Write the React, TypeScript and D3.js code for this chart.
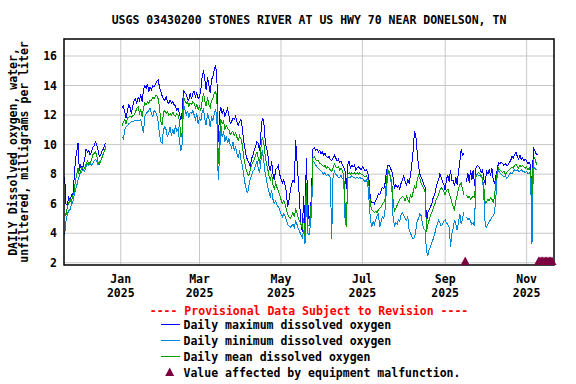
import React from 'react';
import * as d3 from 'd3';

// daily values, day 0 = 2024-11-20 (UTC); null = no record
const firstDay = Date.UTC(2024, 10, 20);

const maxDO: (number | null)[] = [
  7.8, 6.0, 5.9, 6.5, 6.1, 6.6, 6.4, 7.6, 8.9, 9.5, 10.1, 8.2, 8.6, 8.3, 8.6, 9.0, 9.7, 9.5, 9.6, 9.3, 9.5, 9.8, 9.9, 10.2, 10.0, 9.6, 9.2, 9.3, 9.6, 9.7, 10.0, 10.1,
  null, null, null, null, null, null, null, null, null, null, null,
  12.5, 12.6, 12.2, 11.8, 12.3, 12.7, 12.5, 12.1, 12.6, 13.0, 13.1, 12.8, 13.2, 13.0, 13.4, 12.9, 13.7, 14.0, 13.8, 14.1, 13.6, 13.9, 13.7, 14.0, 13.9, 14.1, 14.3, 14.4, 13.9, 13.6, 13.3, 13.1,
  13.0, 13.25, 12.9, 12.8, 13.0, 12.8, 12.9, 12.7, 12.6, 12.35, 12.45, 12.1, 11.7, 12.2, 13.7, 13.5, 13.4, 13.1, 13.0, 13.5, 13.1, 13.5, 13.6, 13.25, 13.5, 13.1, 13.25, 13.7, 14.6, 15.05, 14.4, 13.7, 14.6, 14.05, 13.5, 14.4, 14.6, 15.05, 15.4, 14.6,
  10.2, 12.1, 12.55, 12.1, 12.35, 11.9, 12.2, 12.45, 12.0, 11.45, 11.55, 11.8, 11.7, 11.9, 11.55, 11.3, 11.55, 11.7, 11.2, 10.25, 9.75, 9.2, 8.95, 8.75, 8.5, 9.05, 9.3, 9.6, 9.85, 10.2, 10.1, 9.55,
  10.8, 11.8, 11.7, 10.5, 9.8, 9.5, 8.6, 8.2, 8.9, 8.0, 7.6, 8.3, 8.4, 8.6, 8.0, 7.7, 7.4, 7.6, 7.3, 6.8, 5.8, 6.2, 6.9, 7.3, 7.6, 7.4, 10.3, 8.9, 7.6, 6.0, 4.6, 4.1, 6.5, 4.4, 9.1, 6.2, 5.0, 5.2, 7.0,
  9.7, 9.8, 9.6, 9.7, 9.5, 9.6, 9.4, 9.5, 9.3, 9.4, 9.2, 9.1, 9.2, 9.0, 8.9, 9.1, 9.3, 9.1, 8.9, 9.0, 8.8, 8.9, 8.6, 8.5, 8.2, 7.0, 8.6, 8.9, 8.4, 8.6, 8.5, 8.6, 8.3,
  8.4, 8.5, 8.4, 8.3, 8.5, 8.4, 8.2, 8.3, 8.1, 7.6, 6.2, 6.1, 6.1, 6.0, 6.2, 6.4, 6.7, 6.6, 6.9, 7.1, 7.0, 7.4, 8.2, 8.6, 8.6, 8.4, 8.2, 7.8, 7.0, 7.3,
  7.1, 7.2, 7.0, 7.4, 7.6, 7.9, 7.5, 7.3, 7.6, 7.4, 7.9, 8.7, 9.6, 10.9, 10.6, 9.5, 8.6, 8.0, 7.8, 7.6, 7.3, 7.1, 4.7, 5.4, 5.6, 5.8, 6.0, 6.4, 6.6, 7.0,
  7.4, 7.6, 8.0, 7.8, 7.5, 7.3, 6.9, 7.7, 7.9, 7.5, 8.3, 7.6,
  7.6, 7.2, 7.8, 7.3, 8.2, 8.9, 9.7, 9.3, 9.4, null, 7.5, 8.1, 7.4, 8.3, 7.6, 8.3, 7.2, 8.4, 8.6, 8.5,
  8.4, 8.1, 8.3, 7.6, 7.4, 8.2, 8.0, 8.3, 7.9, 8.4, 7.6, 7.4, 7.9, 8.3, 8.8, 8.7, 8.8, 8.7, 8.6, 8.7,
  8.6, 8.6, 8.8, 8.9, 9.2, 9.1, 9.3, 9.5, 9.2, 9.0, 9.3, 9.0, 9.1, 8.9, 9.0, 8.9, 8.7, 8.8, 8.6, 6.0, 9.8, 9.6, 9.4, 9.3,
];

const minDO: (number | null)[] = [
  3.9, 4.8, 5.3, 5.5, 5.6, 5.9, 6.1, 6.5, 6.9, 7.2, 7.6, 7.9, 8.1, 8.2, 8.3, 8.2, 8.5, 8.7, 8.6, 8.8, 8.6, 8.7, 8.9, 9.0, 8.9, 8.6, 8.8, 8.9, 9.2, 9.4, 9.6, 9.7,
  null, null, null, null, null, null, null, null, null, null, null,
  10.5, 10.4, 11.0, 11.2, 11.3, 11.4, 11.45, 11.55, 11.55, 11.6, 11.65, 11.65, 11.6, 11.65, 11.7, 11.2, 10.8, 11.9, 12.1, 12.2, 12.3, 12.45, 12.1, 11.9, 12.3, 12.2, 12.0, 11.55, 10.75, 10.2, 10.1, 11.0,
  11.2, 11.0, 10.5, 10.8, 11.2, 10.6, 11.0, 10.7, 11.3, 10.9, 11.1, 10.2, 9.6, 10.0, 12.7, 12.4, 12.0, 12.3, 11.8, 12.2, 12.1, 12.3, 12.0, 11.7, 12.1, 11.4, 11.8, 11.6, 12.2, 12.4, 11.7, 11.3, 12.1, 11.8, 11.2, 11.9, 11.6, 12.1, 12.4, 11.8,
  7.6, 9.2, 11.3, 10.5, 10.9, 10.2, 10.6, 10.1, 10.4, 10.0, 9.8, 10.2, 9.6, 9.9, 9.4, 9.1, 9.6, 9.0, 8.6, 8.0, 7.4, 7.0, 6.7, 7.2, 7.7, 7.9, 8.2, 8.3, 8.6, 8.9, 8.4, 8.1,
  8.9, 9.6, 9.0, 8.2, 7.7, 7.2, 6.8, 6.5, 6.9, 6.3, 6.0, 6.2, 5.9, 5.8, 5.6, 5.3, 5.1, 5.3, 5.2, 4.9, 4.6, 4.5, 4.4, 4.5, 4.6, 4.4, 4.8, 4.6, 4.3, 4.1, 3.9, 3.7, 4.2, 3.3, 6.3, 4.0, 3.9, 4.5, 5.6,
  8.9, 8.8, 8.6, 8.5, 8.4, 8.3, 8.2, 8.1, 8.0, 8.1, 7.9, 8.0, 7.9, 7.8, 3.6, 7.8, 8.2, 8.0, 7.9, 7.8, 7.8, 7.9, 7.7, 7.6, 5.0, 4.4, 7.7, 7.8, 7.8, 7.9, 7.8, 7.8, 7.7,
  7.8, 7.7, 7.8, 7.7, 7.7, 7.6, 7.5, 7.6, 7.4, 6.2, 4.9, 4.4, 4.8, 4.6, 4.9, 5.2, 5.3, 4.4, 4.8, 5.1, 5.0, 5.6, 7.0, 8.0, 8.2, 7.7, 7.2, 5.0, 4.5, 4.7,
  4.6, 4.9, 4.8, 5.3, 5.4, 5.2, 5.0, 4.9, 5.1, 4.2, 4.0, 3.8, 3.6, 3.7, 4.2, 4.8, 5.0, 5.3, 5.2, 4.6, 4.3, 4.2, 2.8, 2.5, 2.9, 3.1, 3.4, 3.6, 3.9, 4.3,
  4.6, 4.9, 4.7, 4.5, 4.6, 4.8, 4.9, 4.7, 4.6, 4.4, 3.1, 4.0,
  4.3, 4.9, 4.6, 4.2, 4.8, 5.3, 4.6, 5.0, 5.4, null, 5.1, 4.9, 5.0, 4.8, 4.6, 4.7, 4.5, 7.9, 8.0, 7.9,
  7.9, 7.8, 7.7, 6.4, 4.5, 4.4, 4.6, 4.8, 4.9, 5.1, 5.2, 5.4, 6.5, 8.0, 8.3, 8.1, 8.0, 7.9, 7.8, 7.9,
  7.7, 7.8, 8.0, 8.1, 8.0, 8.2, 8.3, 8.2, 8.3, 8.2, 8.2, 8.3, 8.2, 8.2, 8.1, 8.2, 8.0, 8.1, 7.9, 3.3, 8.5, 8.4, 8.3, 8.3,
];

const meanDO: (number | null)[] = [
  5.4, 5.2, 5.8, 6.0, 6.3, 6.1, 6.5, 6.8, 7.5, 8.0, 8.4, 7.9, 8.2, 8.5, 8.3, 8.4, 8.7, 8.9, 8.7, 8.8, 8.9, 9.3, 9.4, 9.5, 9.3, 8.8, 8.7, 8.9, 9.1, 9.4, 9.6, 9.9,
  null, null, null, null, null, null, null, null, null, null, null,
  11.26, 11.55, 11.7, 11.4, 11.8, 11.85, 11.9, 11.85, 11.95, 12.0, 12.2, 12.45, 12.57, 12.1, 12.35, 11.9, 12.45, 12.8, 12.7, 12.9, 12.8, 13.0, 13.0, 13.2, 13.1, 13.3, 13.35, 13.1, 12.57, 11.55, 11.3, 12.2,
  12.3, 12.1, 12.2, 12.0, 12.1, 12.0, 12.2, 12.0, 11.9, 12.1, 12.0, 11.6, 10.5, 10.8, 13.3, 13.0, 12.8, 12.9, 12.6, 12.8, 12.7, 12.9, 12.8, 12.5, 12.7, 12.4, 12.6, 12.3, 13.0, 13.5, 12.9, 12.6, 13.2, 12.7, 12.5, 13.0, 13.1, 13.5, 13.6, 13.2,
  8.7, 10.5, 11.7, 11.4, 11.6, 11.0, 11.3, 11.1, 11.0, 10.7, 10.8, 10.9, 10.6, 10.8, 10.5, 10.3, 10.6, 10.4, 10.0, 9.2, 8.7, 8.3, 8.0, 7.9, 8.3, 8.6, 8.8, 9.0, 9.3, 9.5, 9.1, 8.7,
  9.8, 10.5, 10.2, 9.4, 8.8, 8.4, 7.9, 7.6, 8.0, 7.3, 7.0, 7.4, 7.1, 6.9, 6.6, 6.3, 6.0, 6.2, 6.0, 5.6, 5.3, 5.1, 5.0, 5.2, 5.4, 5.1, 5.6, 5.4, 5.0, 4.8, 4.6, 4.4, 5.0, 3.8, 7.4, 4.6, 4.5, 5.2, 6.5,
  9.1, 9.2, 9.0, 8.9, 8.9, 8.7, 8.7, 8.6, 8.5, 8.6, 8.4, 8.5, 8.4, 8.3, 8.2, 8.4, 8.7, 8.5, 8.4, 8.5, 8.3, 8.4, 8.2, 8.0, 6.0, 4.4, 8.0, 8.1, 8.0, 8.1, 8.0, 8.1, 8.0,
  8.1, 8.0, 8.1, 8.0, 8.0, 7.9, 7.8, 7.9, 7.7, 7.2, 5.9, 5.6, 5.5, 5.4, 5.5, 5.4, 5.6, 5.7, 5.8, 6.0, 6.1, 6.3, 7.6, 8.3, 8.1, 7.9, 7.4, 6.2, 5.5, 5.7,
  5.9, 6.1, 6.3, 6.4, 6.5, 6.4, 6.2, 6.5, 6.3, 6.1, 6.6, 6.4, 6.8, 7.2, 7.0, 7.6, 7.9, 7.7, 7.4, 7.2, 7.0, 6.8, 4.1, 4.6, 4.9, 5.2, 5.4, 5.7, 5.9, 6.2,
  6.4, 6.6, 6.9, 7.1, 7.0, 6.8, 6.6, 6.9, 7.0, 6.7, 6.4, 6.1,
  5.8, 5.6, 6.2, 6.6, 7.0, 7.3, 7.4, 7.0, 6.6, null, 6.6, 6.4, 6.5, 6.3, 6.4, 6.5, 6.4, 7.8, 8.0, 8.1,
  8.0, 7.9, 7.7, 7.1, 6.0, 6.1, 6.3, 6.2, 6.4, 6.3, 6.1, 6.5, 7.6, 8.1, 8.4, 8.3, 8.2, 8.1, 8.2, 8.0,
  8.1, 8.2, 8.3, 8.4, 8.5, 8.4, 8.6, 8.7, 8.5, 8.4, 8.6, 8.5, 8.6, 8.5, 8.4, 8.5, 8.3, 8.4, 8.2, 6.6, 8.9, 9.1, 8.8, 8.6,
];

const malfunctionDates = [
  '2025-09-16', '2025-11-10', '2025-11-11', '2025-11-12', '2025-11-13', '2025-11-14',
  '2025-11-15', '2025-11-16', '2025-11-17', '2025-11-18', '2025-11-19', '2025-11-20',
];

const yTicks = [2, 4, 6, 8, 10, 12, 14, 16];

const title = 'USGS 03430200 STONES RIVER AT US HWY 70 NEAR DONELSON, TN';
const yLabel = ['DAILY Dissolved oxygen, water,', 'unfiltered, milligrams per liter'];
const legendLines = [
  { label: 'Daily maximum dissolved oxygen', color: '#0000ff' },
  { label: 'Daily minimum dissolved oxygen', color: '#0088d8' },
  { label: 'Daily mean dissolved oxygen', color: '#00a000' },
];
const malfunctionLabel = 'Value affected by equipment malfunction.';
const provisional = '---- Provisional Data Subject to Revision ----';

const FONT = '"DejaVu Sans Mono", monospace';
const MAROON = '#7c0040';

const plot = { left: 64, right: 554, top: 39, bottom: 265 };

export default function App() {
  const x = d3.scaleUtc()
    .domain([new Date(Date.UTC(2024, 10, 19, 12)), new Date(Date.UTC(2025, 10, 21, 12))])
    .range([plot.left, plot.right]);
  const y = d3.scaleLinear().domain([1.85, 17.15]).range([plot.bottom, plot.top]);

  const dates = maxDO.map((_, i) => new Date(firstDay + i * 864e5));
  const path = (vals: (number | null)[]) =>
    d3.line<number | null>()
      .defined(v => v != null)
      .x((_, i) => x(dates[i]))
      .y(v => y(v as number))(vals) || '';

  const monthTicks = x.ticks(d3.utcMonth.every(2)!);
  const parse = d3.utcParse('%Y-%m-%d');
  const fmtMon = d3.utcFormat('%b');
  const fmtYear = d3.utcFormat('%Y');

  const tri = (cx: number, base: number) => `M${cx - 4.5},${base} L${cx},${base - 8.5} L${cx + 4.5},${base} Z`;
  const midX = (plot.left + plot.right) / 2;

  return (
    <svg width={576} height={384} style={{ position: 'absolute', left: 0, top: 0, background: '#fff' }}
      fontFamily={FONT} fontWeight="bold">
      <rect x={0} y={0} width={576} height={384} fill="#fff" />
      <text x={midX} y={23.5} textAnchor="middle" fontSize={11.5}>{title}</text>

      {/* grid */}
      {yTicks.map(t => (
        <line key={'gy' + t} x1={plot.left} x2={plot.right} y1={y(t)} y2={y(t)} stroke="#c8c8c8" strokeWidth={1} />
      ))}
      {monthTicks.map(d => (
        <line key={'gx' + d.getTime()} x1={x(d)} x2={x(d)} y1={plot.top} y2={plot.bottom} stroke="#c8c8c8" strokeWidth={1} />
      ))}

      {/* series */}
      <g fill="none" strokeWidth={1} shapeRendering="crispEdges">
        <path d={path(maxDO)} stroke={legendLines[0].color} />
        <path d={path(minDO)} stroke={legendLines[1].color} />
        <path d={path(meanDO)} stroke={legendLines[2].color} />
      </g>

      <rect x={plot.left} y={plot.top} width={plot.right - plot.left} height={plot.bottom - plot.top}
        fill="none" stroke="#000" strokeWidth={1.5} />

      {malfunctionDates.map(s => (
        <path key={s} d={tri(x(parse(s)!), plot.bottom)} fill={MAROON} />
      ))}

      {/* y axis */}
      {yTicks.map(t => (
        <text key={'yt' + t} x={57} y={y(t) + 4} textAnchor="end" fontSize={11.5}>{t}</text>
      ))}
      {yLabel.map((s, i) => (
        <text key={s} transform={`translate(${16.5 + i * 11},${(plot.top + plot.bottom) / 2}) rotate(-90)`}
          textAnchor="middle" fontSize={11.5}>{s}</text>
      ))}

      {/* x axis */}
      {monthTicks.map(d => (
        <g key={'xl' + d.getTime()}>
          <text x={x(d)} y={283} textAnchor="middle" fontSize={11.5}>{fmtMon(d)}</text>
          <text x={x(d)} y={296.5} textAnchor="middle" fontSize={11.5}>{fmtYear(d)}</text>
        </g>
      ))}

      {/* legend */}
      <text x={midX} y={315} textAnchor="middle" fontSize={11.5} fill="#ff0000">{provisional}</text>
      {legendLines.map((l, i) => {
        const ly = 324 + i * 16.2;
        return (
          <g key={l.label}>
            <line x1={160.5} x2={179.5} y1={ly} y2={ly} stroke={l.color} strokeWidth={1} shapeRendering="crispEdges" />
            <text x={183.5} y={ly + 4.5} fontSize={11.5}>{l.label}</text>
          </g>
        );
      })}
      <path d={tri(169.7, 376)} fill={MAROON} />
      <text x={183.5} y={376.7} fontSize={11.5}>{malfunctionLabel}</text>
    </svg>
  );
}
